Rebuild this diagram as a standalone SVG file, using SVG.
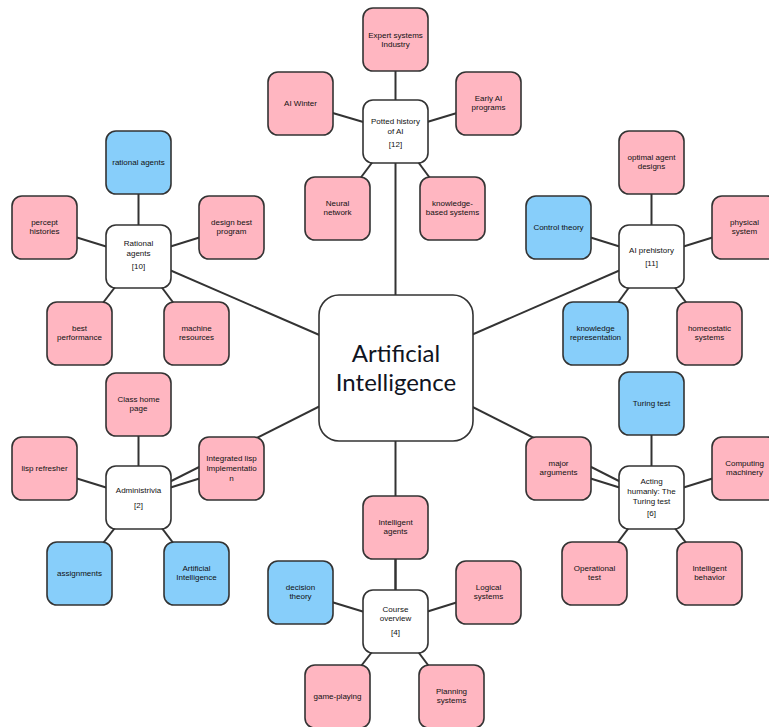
<svg xmlns="http://www.w3.org/2000/svg" width="769" height="727" viewBox="0 0 769 727">
  <style>
    .bg { fill: #ffffff; }
    .edge { stroke: #333333; stroke-width: 2; fill: none; }
    .box { stroke: #333333; stroke-width: 1.6; }
    .pink { fill: #ffb6c1; }
    .blue { fill: #87cefa; }
    .hub { fill: #ffffff; }
    .core { fill: #ffffff; stroke: #333333; stroke-width: 1.6; }
    text { font-family: "Liberation Sans", Arial, sans-serif; font-size: 8px; fill: #111111; text-anchor: middle; dominant-baseline: central; }
    .big { font-family: Lato, "Open Sans", "Liberation Sans", sans-serif; font-size: 24px; fill: #10141f; }
  </style>
  <defs>
    <rect id="card" width="65" height="63" rx="10" ry="10"/>
  </defs>
  <rect class="bg" width="769" height="727"/>

  <!-- connectors: drawn centre to centre, boxes are painted over them -->
  <g id="connectors" class="edge">
    <!-- core to section hubs -->
    <line x1="395.5" y1="368" x2="395.5" y2="131.5"/>
    <line x1="395.5" y1="368" x2="138.5" y2="256.5"/>
    <line x1="395.5" y1="368" x2="651.5" y2="256.5"/>
    <line x1="395.5" y1="368" x2="138.5" y2="497.5"/>
    <line x1="395.5" y1="368" x2="651.5" y2="497.5"/>
    <line x1="395.5" y1="368" x2="395.5" y2="621.5"/>
    <!-- Potted history -->
    <line x1="395.5" y1="131.5" x2="395.5" y2="39.5"/>
    <line x1="395.5" y1="131.5" x2="300.5" y2="103.5"/>
    <line x1="395.5" y1="131.5" x2="488.5" y2="103.5"/>
    <line x1="395.5" y1="131.5" x2="337.5" y2="208.5"/>
    <line x1="395.5" y1="131.5" x2="452.5" y2="208.5"/>
    <!-- Rational agents -->
    <line x1="138.5" y1="256.5" x2="138.5" y2="162.5"/>
    <line x1="138.5" y1="256.5" x2="44.5" y2="227.5"/>
    <line x1="138.5" y1="256.5" x2="231.5" y2="227.5"/>
    <line x1="138.5" y1="256.5" x2="79.5" y2="333.5"/>
    <line x1="138.5" y1="256.5" x2="196.5" y2="333.5"/>
    <!-- AI prehistory -->
    <line x1="651.5" y1="256.5" x2="651.5" y2="162.5"/>
    <line x1="651.5" y1="256.5" x2="558.5" y2="227.5"/>
    <line x1="651.5" y1="256.5" x2="744.5" y2="227.5"/>
    <line x1="651.5" y1="256.5" x2="595.5" y2="333.5"/>
    <line x1="651.5" y1="256.5" x2="709.5" y2="333.5"/>
    <!-- Administrivia -->
    <line x1="138.5" y1="497.5" x2="138.5" y2="404.5"/>
    <line x1="138.5" y1="497.5" x2="44.5" y2="468.5"/>
    <line x1="138.5" y1="497.5" x2="231.5" y2="468.5"/>
    <line x1="138.5" y1="497.5" x2="79.5" y2="573.5"/>
    <line x1="138.5" y1="497.5" x2="196.5" y2="573.5"/>
    <!-- Acting humanly -->
    <line x1="651.5" y1="497.5" x2="651.5" y2="403.5"/>
    <line x1="651.5" y1="497.5" x2="558.5" y2="468.5"/>
    <line x1="651.5" y1="497.5" x2="744.5" y2="468.5"/>
    <line x1="651.5" y1="497.5" x2="594.5" y2="573.5"/>
    <line x1="651.5" y1="497.5" x2="709.5" y2="573.5"/>
    <!-- Course overview -->
    <line x1="395.5" y1="621.5" x2="395.5" y2="527.5"/>
    <line x1="395.5" y1="621.5" x2="300.5" y2="592.5"/>
    <line x1="395.5" y1="621.5" x2="488.5" y2="592.5"/>
    <line x1="395.5" y1="621.5" x2="337.5" y2="696.5"/>
    <line x1="395.5" y1="621.5" x2="451.5" y2="696.5"/>
  </g>

  <!-- core topic -->
  <g id="core">
    <rect class="core" x="319" y="295" width="154" height="146" rx="20" ry="20"/>
    <text class="big" x="396" y="352">Artificial</text>
    <text class="big" x="396" y="381">Intelligence</text>
  </g>

  <!-- Potted history of AI -->
  <g id="potted-history">
    <use href="#card" class="box hub" x="363" y="100"/>
    <text x="395.5" y="121.5">Potted history</text>
    <text x="395.5" y="131">of AI</text>
    <text x="395.5" y="144">[12]</text>
  </g>
  <g id="expert-systems">
    <use href="#card" class="box pink" x="363" y="8"/>
    <text x="395.5" y="35">Expert systems</text>
    <text x="395.5" y="44">Industry</text>
  </g>
  <g id="ai-winter">
    <use href="#card" class="box pink" x="268" y="72"/>
    <text x="300.5" y="103">AI Winter</text>
  </g>
  <g id="early-ai">
    <use href="#card" class="box pink" x="456" y="72"/>
    <text x="488.5" y="98.5">Early AI</text>
    <text x="488.5" y="107.5">programs</text>
  </g>
  <g id="neural-network">
    <use href="#card" class="box pink" x="305" y="177"/>
    <text x="337.5" y="203.5">Neural</text>
    <text x="337.5" y="212.5">network</text>
  </g>
  <g id="knowledge-based">
    <use href="#card" class="box pink" x="420" y="177"/>
    <text x="452.5" y="203.5">knowledge-</text>
    <text x="452.5" y="212.5">based systems</text>
  </g>

  <!-- Rational agents -->
  <g id="rational-agents">
    <use href="#card" class="box hub" x="106" y="225"/>
    <text x="138.5" y="243.5">Rational</text>
    <text x="138.5" y="253">agents</text>
    <text x="138.5" y="266.5">[10]</text>
  </g>
  <g id="rational-agents-link">
    <use href="#card" class="box blue" x="106" y="131"/>
    <text x="138.5" y="162">rational  agents</text>
  </g>
  <g id="percept-histories">
    <use href="#card" class="box pink" x="12" y="196"/>
    <text x="44.5" y="222.5">percept</text>
    <text x="44.5" y="231.5">histories</text>
  </g>
  <g id="design-best-program">
    <use href="#card" class="box pink" x="199" y="196"/>
    <text x="231.5" y="222.5">design  best</text>
    <text x="231.5" y="231.5">program</text>
  </g>
  <g id="best-performance">
    <use href="#card" class="box pink" x="47" y="302"/>
    <text x="79.5" y="328.5">best</text>
    <text x="79.5" y="337.5">performance</text>
  </g>
  <g id="machine-resources">
    <use href="#card" class="box pink" x="164" y="302"/>
    <text x="196.5" y="328.5">machine</text>
    <text x="196.5" y="337.5">resources</text>
  </g>

  <!-- AI prehistory -->
  <g id="ai-prehistory">
    <use href="#card" class="box hub" x="619" y="225"/>
    <text x="651.5" y="250">AI  prehistory</text>
    <text x="651.5" y="263">[11]</text>
  </g>
  <g id="optimal-agent-designs">
    <use href="#card" class="box pink" x="619" y="131"/>
    <text x="651.5" y="157.5">optimal  agent</text>
    <text x="651.5" y="166.5">designs</text>
  </g>
  <g id="control-theory">
    <use href="#card" class="box blue" x="526" y="196"/>
    <text x="558.5" y="227">Control  theory</text>
  </g>
  <g id="physical-system">
    <use href="#card" class="box pink" x="712" y="196"/>
    <text x="744.5" y="222.5">physical</text>
    <text x="744.5" y="231.5">system</text>
  </g>
  <g id="knowledge-representation">
    <use href="#card" class="box blue" x="563" y="302"/>
    <text x="595.5" y="328.5">knowledge</text>
    <text x="595.5" y="337.5">representation</text>
  </g>
  <g id="homeostatic-systems">
    <use href="#card" class="box pink" x="677" y="302"/>
    <text x="709.5" y="328.5">homeostatic</text>
    <text x="709.5" y="337.5">systems</text>
  </g>

  <!-- Administrivia -->
  <g id="administrivia">
    <use href="#card" class="box hub" x="106" y="466"/>
    <text x="138.5" y="490">Administrivia</text>
    <text x="138.5" y="505.5">[2]</text>
  </g>
  <g id="class-home-page">
    <use href="#card" class="box pink" x="106" y="373"/>
    <text x="138.5" y="399.5">Class  home</text>
    <text x="138.5" y="408.5">page</text>
  </g>
  <g id="lisp-refresher">
    <use href="#card" class="box pink" x="12" y="437"/>
    <text x="44.5" y="468">lisp  refresher</text>
  </g>
  <g id="integrated-lisp">
    <use href="#card" class="box pink" x="199" y="437"/>
    <text x="231.5" y="458.5">Integrated  lisp</text>
    <text x="231.5" y="468.5">Implementatio</text>
    <text x="231.5" y="478.5">n</text>
  </g>
  <g id="assignments">
    <use href="#card" class="box blue" x="47" y="542"/>
    <text x="79.5" y="573">assignments</text>
  </g>
  <g id="artificial-intelligence-link">
    <use href="#card" class="box blue" x="164" y="542"/>
    <text x="196.5" y="568.5">Artificial</text>
    <text x="196.5" y="577.5">Intelligence</text>
  </g>

  <!-- Acting humanly: The Turing test -->
  <g id="acting-humanly">
    <use href="#card" class="box hub" x="619" y="466"/>
    <text x="651.5" y="481">Acting</text>
    <text x="651.5" y="491">humanly: The</text>
    <text x="651.5" y="501">Turing test</text>
    <text x="651.5" y="513">[6]</text>
  </g>
  <g id="turing-test">
    <use href="#card" class="box blue" x="619" y="372"/>
    <text x="651.5" y="403">Turing test</text>
  </g>
  <g id="major-arguments">
    <use href="#card" class="box pink" x="526" y="437"/>
    <text x="558.5" y="463.5">major</text>
    <text x="558.5" y="472.5">arguments</text>
  </g>
  <g id="computing-machinery">
    <use href="#card" class="box pink" x="712" y="437"/>
    <text x="744.5" y="463.5">Computing</text>
    <text x="744.5" y="472.5">machinery</text>
  </g>
  <g id="operational-test">
    <use href="#card" class="box pink" x="562" y="542"/>
    <text x="594.5" y="568.5">Operational</text>
    <text x="594.5" y="577.5">test</text>
  </g>
  <g id="intelligent-behavior">
    <use href="#card" class="box pink" x="677" y="542"/>
    <text x="709.5" y="568.5">Intelligent</text>
    <text x="709.5" y="577.5">behavior</text>
  </g>

  <!-- Course overview -->
  <g id="course-overview">
    <use href="#card" class="box hub" x="363" y="590"/>
    <text x="395.5" y="609">Course</text>
    <text x="395.5" y="618.5">overview</text>
    <text x="395.5" y="632">[4]</text>
  </g>
  <g id="intelligent-agents">
    <use href="#card" class="box pink" x="363" y="496"/>
    <text x="395.5" y="522.5">Intelligent</text>
    <text x="395.5" y="531.5">agents</text>
  </g>
  <g id="decision-theory">
    <use href="#card" class="box blue" x="268" y="561"/>
    <text x="300.5" y="587.5">decision</text>
    <text x="300.5" y="596.5">theory</text>
  </g>
  <g id="logical-systems">
    <use href="#card" class="box pink" x="456" y="561"/>
    <text x="488.5" y="587.5">Logical</text>
    <text x="488.5" y="596.5">systems</text>
  </g>
  <g id="game-playing">
    <use href="#card" class="box pink" x="305" y="665"/>
    <text x="337.5" y="696">game-playing</text>
  </g>
  <g id="planning-systems">
    <use href="#card" class="box pink" x="419" y="665"/>
    <text x="451.5" y="691.5">Planning</text>
    <text x="451.5" y="700.5">systems</text>
  </g>
</svg>
